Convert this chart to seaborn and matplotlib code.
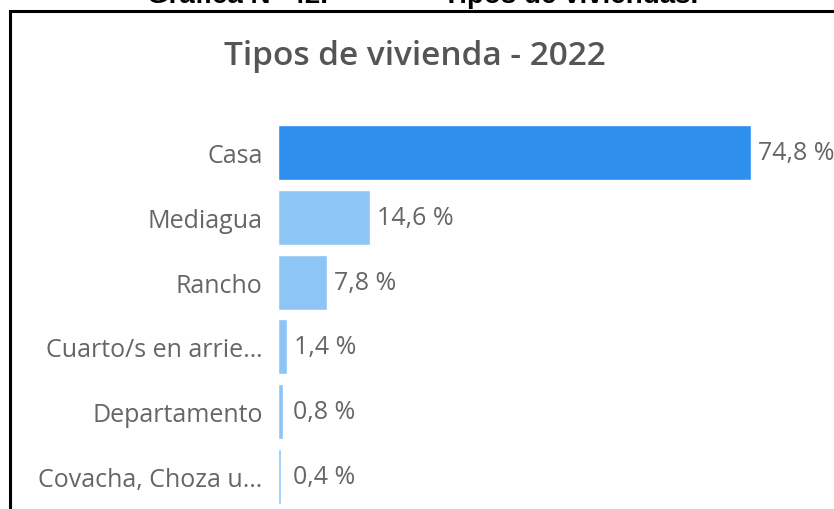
import matplotlib
matplotlib.use('Agg')
import matplotlib.pyplot as plt
from matplotlib.lines import Line2D
import seaborn as sns

# data
categorias = ['Casa', 'Mediagua', 'Rancho', 'Cuarto/s en arrie…',
              'Departamento', 'Covacha, Choza u…']
porcentajes = [74.8, 14.6, 7.8, 1.4, 0.8, 0.4]
etiquetas = ['74,8 %', '14,6 %', '7,8 %', '1,4 %', '0,8 %', '0,4 %']
colores = ['#2e8fef', '#8ec5f7', '#8ec5f7', '#8ec5f7', '#8ec5f7', '#8ec5f7']

titulo = 'Tipos de vivienda - 2022'
encabezado_1 = 'Gráfica N° 42.'
encabezado_2 = 'Tipos de viviendas.'

sns.set_theme(style='white')
plt.rcParams['font.family'] = ['Open Sans', 'DejaVu Sans']

W, H = 834, 510
fig = plt.figure(figsize=(W / 100, H / 100), dpi=100)
fig.patch.set_facecolor('white')

# axes: bars start at x=278 px, rows span y=121..510 px
ax = fig.add_axes([278 / W, 0, (W - 278) / W, 389 / H])
sns.barplot(x=porcentajes, y=categorias, hue=categorias, palette=colores,
            legend=False, width=0.85, orient='h', saturation=1, ax=ax)
ax.set_xlim(0, (W - 278) / 6.324)
ax.set_ylim(5.5, -0.5)
sns.despine(ax=ax, left=True, bottom=True)
ax.set_xticks([])
ax.set_xlabel('')
ax.set_ylabel('')
ax.tick_params(axis='y', length=0, pad=11, labelsize=18, labelcolor='#666666')

# value labels
for i, (v, lab) in enumerate(zip(porcentajes, etiquetas)):
    ax.annotate(lab, xy=(max(v, 1.2), i), xytext=(5, 0), textcoords='offset points',
                ha='left', va='center', fontsize=18, color='#666666')

# chart title
fig.text(415 / W, 1 - 65 / H, titulo, ha='center', va='baseline',
         fontsize=24, color='#555555', fontweight='semibold')

# document header (cut at top, as in the source page)
fig.text(147 / W, 1 - 3 / H, encabezado_1, ha='left', va='baseline',
         fontsize=20, fontweight='bold', color='black',
         family=['Liberation Sans', 'DejaVu Sans'])
fig.text(443 / W, 1 - 3 / H, encabezado_2, ha='left', va='baseline',
         fontsize=20, fontweight='bold', color='black',
         family=['Liberation Sans', 'DejaVu Sans'])

# black frame (left and top)
fig.add_artist(Line2D([10 / W, 10 / W, 1], [0, 1 - 12 / H, 1 - 12 / H],
                      transform=fig.transFigure, color='black', linewidth=2.2,
                      solid_joinstyle='miter'))

fig.savefig('out.png', dpi=100, facecolor='white')
